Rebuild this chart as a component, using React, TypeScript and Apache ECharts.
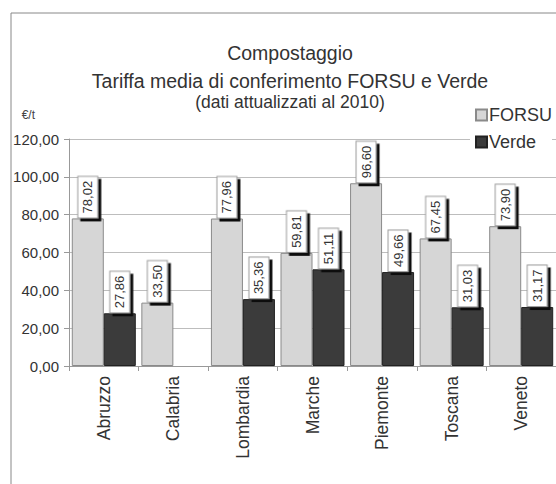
import React, { useEffect, useRef } from "react";
import * as echarts from "echarts";

const categories = ["Abruzzo", "Calabria", "Lombardia", "Marche", "Piemonte", "Toscana", "Veneto"];
const forsuValues = [78.02, 33.5, 77.96, 59.81, 96.6, 67.45, 73.9];
const verdeValues: (number | null)[] = [27.86, null, 35.36, 51.11, 49.66, 31.03, 31.17];
const seriesNames = ["FORSU", "Verde"];
const titleLines = ["Compostaggio", "Tariffa media di conferimento FORSU e Verde", "(dati attualizzati al 2010)"];
const unitLabel = "€/t";

const FONT = "'Liberation Sans', Arial, sans-serif";
const fmt = (v: number) => v.toFixed(2).replace(".", ",");

export default function App() {
  const ref = useRef<HTMLDivElement>(null);
  useEffect(() => {
    if (!ref.current) return;
    const chart = echarts.init(ref.current, undefined, { renderer: "svg" });
    const labelStyle = {
      show: true,
      position: "top" as const,
      rotate: 90,
      align: "left" as const,
      verticalAlign: "middle" as const,
      distance: 1,
      formatter: (p: any) => fmt(p.value),
      fontFamily: FONT,
      fontSize: 13,
      color: "#333",
      backgroundColor: "#fff",
      borderColor: "#999",
      borderWidth: 1,
      padding: [3, 4, 3, 4],
      shadowColor: "#111",
      shadowBlur: 0,
      shadowOffsetX: -3,
      shadowOffsetY: 3,
    };
    chart.setOption({
      animation: false,
      backgroundColor: "#fff",
      title: [
        { text: titleLines[0], left: 290, top: 43, textAlign: "center", padding: 0,
          textStyle: { fontFamily: FONT, fontSize: 19.5, fontWeight: "normal", color: "#333", lineHeight: 20 } },
        { text: titleLines[1], left: 290, top: 71, textAlign: "center", padding: 0,
          textStyle: { fontFamily: FONT, fontSize: 19.5, fontWeight: "normal", color: "#333", lineHeight: 20 } },
        { text: titleLines[2], left: 290, top: 93, textAlign: "center", padding: 0,
          textStyle: { fontFamily: FONT, fontSize: 17.5, fontWeight: "normal", color: "#333", lineHeight: 18 } },
      ],
      legend: {
        data: seriesNames,
        orient: "vertical",
        left: 470,
        top: 103,
        padding: [3, 0, 3, 5],
        backgroundColor: "#fff",
        itemWidth: 11,
        itemHeight: 11,
        itemGap: 9,
        icon: "rect",
        textStyle: { fontFamily: FONT, fontSize: 18, color: "#333", lineHeight: 18, padding: [0, 0, 0, -3] },
      },
      grid: { left: 69, top: 139, width: 490, height: 227, containLabel: false },
      xAxis: {
        type: "category",
        data: categories,
        axisLine: { lineStyle: { color: "#999", width: 1 } },
        axisTick: { show: true, length: 5, lineStyle: { color: "#999" } },
        axisLabel: { rotate: 90, margin: 10, fontFamily: FONT, fontSize: 17.5, color: "#333" },
      },
      yAxis: {
        type: "value",
        min: 0,
        max: 120,
        interval: 20,
        name: unitLabel,
        nameLocation: "end",
        nameGap: 24,
        nameTextStyle: { fontFamily: FONT, fontSize: 12, color: "#444", align: "right", verticalAlign: "middle", padding: [0, 34, 0, 0] },
        axisLine: { show: true, lineStyle: { color: "#999", width: 1 } },
        axisTick: { show: true, length: 5, lineStyle: { color: "#999" } },
        axisLabel: { margin: 10, fontFamily: FONT, fontSize: 15, color: "#333", formatter: (v: number) => fmt(v) },
        splitLine: { show: true, lineStyle: { color: "#bdbdbd", width: 1 } },
      },
      series: [
        {
          name: seriesNames[0],
          type: "bar",
          data: forsuValues,
          barWidth: 32,
          barGap: "0%",
          itemStyle: { color: "#d6d6d6", borderColor: "#8a8a8a", borderWidth: 1 },
          label: labelStyle,
        },
        {
          name: seriesNames[1],
          type: "bar",
          data: verdeValues,
          barWidth: 32,
          barGap: "0%",
          itemStyle: { color: "#3b3b3b", borderColor: "#222", borderWidth: 1 },
          label: labelStyle,
        },
      ],
      graphic: [
        {
          type: "rect",
          shape: { x: 11, y: 13, width: 700, height: 700 },
          style: { fill: "none", stroke: "#888", lineWidth: 1 },
          silent: true,
          z: -1,
        },
      ],
    });
    return () => chart.dispose();
  }, []);
  return <div ref={ref} style={{ position: "fixed", left: 0, top: 0, width: 556, height: 484 }} />;
}
